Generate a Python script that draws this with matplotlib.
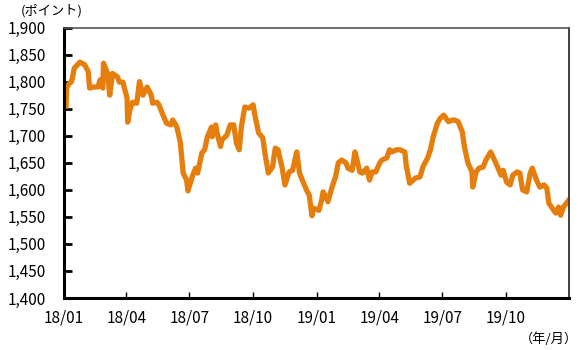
import pandas as pd
import matplotlib
matplotlib.use('Agg')
import matplotlib.pyplot as plt
import matplotlib.ticker as mticker

plt.rcParams['font.family'] = ['Noto Sans CJK JP', 'DejaVu Sans']

# values (roughly one point every few trading days)
dates_2018 = [
    '2018-01-04', '2018-01-05', '2018-01-09', '2018-01-12', '2018-01-16', '2018-01-24',
    '2018-01-31', '2018-02-05', '2018-02-07', '2018-02-12', '2018-02-19', '2018-02-22',
    '2018-02-26', '2018-02-27', '2018-03-05', '2018-03-08', '2018-03-12', '2018-03-19',
    '2018-03-22', '2018-03-27', '2018-04-02', '2018-04-03', '2018-04-06', '2018-04-10',
    '2018-04-16', '2018-04-20', '2018-04-25', '2018-05-01', '2018-05-07', '2018-05-09',
    '2018-05-15', '2018-05-18', '2018-05-24', '2018-05-29', '2018-06-04', '2018-06-07',
    '2018-06-13', '2018-06-18', '2018-06-22', '2018-06-27', '2018-06-29', '2018-07-05',
    '2018-07-10', '2018-07-13', '2018-07-19', '2018-07-23', '2018-07-27', '2018-08-02',
    '2018-08-03', '2018-08-08', '2018-08-10', '2018-08-15', '2018-08-17', '2018-08-24',
    '2018-08-29', '2018-09-03', '2018-09-07', '2018-09-11', '2018-09-14', '2018-09-19',
    '2018-09-25', '2018-10-01', '2018-10-04', '2018-10-09', '2018-10-15', '2018-10-18',
    '2018-10-23', '2018-10-29', '2018-11-02', '2018-11-06', '2018-11-12', '2018-11-16',
    '2018-11-22', '2018-11-27', '2018-12-03', '2018-12-07', '2018-12-11', '2018-12-17',
    '2018-12-21', '2018-12-25', '2018-12-27',
]
values_2018 = [
    1755, 1790, 1797, 1800, 1825, 1836,
    1831, 1818, 1788, 1790, 1790, 1803,
    1788, 1834, 1815, 1775, 1815, 1809,
    1799, 1799, 1770, 1725, 1747, 1762,
    1760, 1800, 1775, 1790, 1775, 1760,
    1762, 1757, 1738, 1723, 1720, 1729,
    1716, 1687, 1631, 1618, 1598, 1624,
    1640, 1631, 1668, 1674, 1698, 1716,
    1698, 1720, 1705, 1680, 1692, 1701,
    1720, 1720, 1686, 1674, 1716, 1753,
    1751, 1757, 1735, 1705, 1696, 1668,
    1631, 1642, 1677, 1674, 1640, 1609,
    1633, 1636, 1670, 1631, 1618, 1600,
    1590, 1552, 1566,
]

dates_2019 = [
    '2019-01-04', '2019-01-08', '2019-01-10', '2019-01-15', '2019-01-17', '2019-01-23',
    '2019-01-28', '2019-02-01', '2019-02-06', '2019-02-12', '2019-02-15', '2019-02-21',
    '2019-02-25', '2019-02-28', '2019-03-04', '2019-03-08', '2019-03-14', '2019-03-18',
    '2019-03-22', '2019-03-27', '2019-04-02', '2019-04-05', '2019-04-12', '2019-04-16',
    '2019-04-19', '2019-04-26', '2019-05-01', '2019-05-08', '2019-05-10', '2019-05-15',
    '2019-05-20', '2019-05-24', '2019-05-30', '2019-06-03', '2019-06-10', '2019-06-14',
    '2019-06-18', '2019-06-24', '2019-06-28', '2019-07-03', '2019-07-05', '2019-07-08',
    '2019-07-10', '2019-07-16', '2019-07-19', '2019-07-24', '2019-07-30', '2019-08-02',
    '2019-08-07', '2019-08-13', '2019-08-14', '2019-08-19', '2019-08-23', '2019-08-29',
    '2019-09-02', '2019-09-09', '2019-09-13', '2019-09-19', '2019-09-24', '2019-09-27',
    '2019-10-02', '2019-10-07', '2019-10-11', '2019-10-17', '2019-10-21', '2019-10-25',
    '2019-10-31', '2019-11-05', '2019-11-08', '2019-11-14', '2019-11-19', '2019-11-25',
    '2019-11-29', '2019-12-02', '2019-12-09', '2019-12-12', '2019-12-16', '2019-12-19',
    '2019-12-23', '2019-12-27', '2019-12-30',
]
values_2019 = [
    1562, 1581, 1596, 1585, 1578, 1605,
    1624, 1650, 1655, 1650, 1640, 1636,
    1670, 1655, 1633, 1631, 1640, 1618,
    1633, 1633, 1650, 1655, 1659, 1674,
    1670, 1674, 1674, 1670, 1646, 1612,
    1618, 1622, 1624, 1642, 1659, 1674,
    1698, 1723, 1732, 1738, 1735, 1729,
    1726, 1729, 1729, 1726, 1707, 1680,
    1650, 1633, 1605, 1633, 1640, 1642,
    1655, 1670, 1659, 1642, 1627, 1636,
    1614, 1609, 1627, 1633, 1631, 1600,
    1596, 1631, 1640, 1618, 1605, 1609,
    1603, 1575, 1562, 1557, 1568, 1553,
    1568, 1575, 1580,
]

tick_months = ['2018-01-01', '2018-04-01', '2018-07-01', '2018-10-01',
               '2019-01-01', '2019-04-01', '2019-07-01', '2019-10-01']
tick_labels = ['18/01', '18/04', '18/07', '18/10', '19/01', '19/04', '19/07', '19/10']

dates = pd.to_datetime(dates_2018 + dates_2019)
values = values_2018 + values_2019

fig = plt.figure(figsize=(5.78, 3.5), dpi=100)
ax = fig.add_axes([0.1107, 0.1486, 0.8737, 0.7728])

ax.plot(dates, values, color='#E67E0E', linewidth=3.8, solid_joinstyle='round')

ax.set_xlim(pd.Timestamp('2018-01-01'), pd.Timestamp('2019-12-31'))
ax.set_ylim(1400, 1900)
ax.set_xticks(pd.to_datetime(tick_months))
ax.set_xticklabels(tick_labels)
ax.set_yticks(range(1400, 1901, 50))
ax.yaxis.set_major_formatter(mticker.FuncFormatter(lambda v, p: f'{int(v):,}'))

ax.tick_params(axis='both', direction='in', labelsize=11, colors='black')
ax.tick_params(axis='y', length=6, width=2, pad=13)
ax.tick_params(axis='x', length=4, width=1, pad=8)

ax.spines['left'].set_linewidth(2.2)
ax.spines['bottom'].set_linewidth(2.2)
ax.spines['left'].set_color('black')
ax.spines['bottom'].set_color('black')
ax.spines['top'].set_linewidth(1.2)
ax.spines['top'].set_color('#555555')
ax.spines['right'].set_linewidth(1.4)
ax.spines['right'].set_color('#404040')

fig.text(0.036, 0.968, '(ポイント)', fontsize=9.5, va='center', ha='left')
fig.text(1.0, 0.031, '（年/月）', fontsize=9.5, va='center', ha='right')

fig.savefig('out.png', dpi=100)
